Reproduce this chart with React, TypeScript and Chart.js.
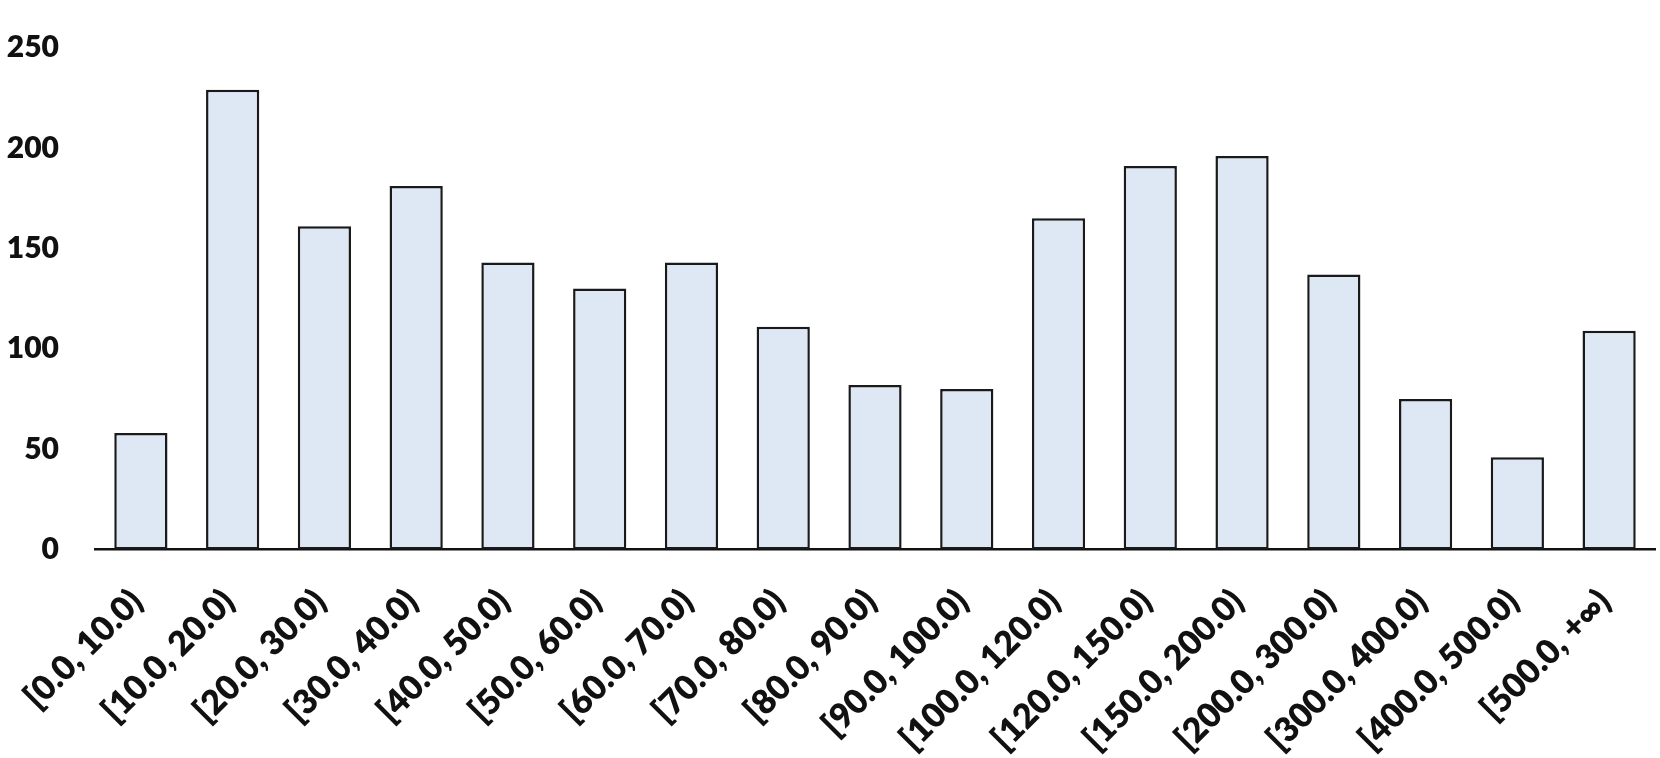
import React, { useEffect, useRef } from "react";
import { Chart, registerables } from "chart.js";

Chart.register(...registerables);

const categories = [
  "[0.0, 10.0)", "[10.0, 20.0)", "[20.0, 30.0)", "[30.0, 40.0)", "[40.0, 50.0)",
  "[50.0, 60.0)", "[60.0, 70.0)", "[70.0, 80.0)", "[80.0, 90.0)", "[90.0, 100.0)",
  "[100.0, 120.0)", "[120.0, 150.0)", "[150.0, 200.0)", "[200.0, 300.0)",
  "[300.0, 400.0)", "[400.0, 500.0)", "[500.0, +∞)",
];
const counts = [58, 229, 161, 181, 143, 130, 143, 111, 82, 80, 165, 191, 196, 137, 75, 46, 109];
const yTicks = [0, 50, 100, 150, 200, 250];

const FONT = "Lato, 'Open Sans', sans-serif";

export default function App() {
  const ref = useRef<HTMLCanvasElement | null>(null);
  useEffect(() => {
    document.body.style.margin = "0";
    const ctx = ref.current!;
    const chart = new Chart(ctx, {
      type: "bar",
      data: {
        labels: categories,
        datasets: [
          {
            data: counts,
            backgroundColor: "#DEE8F4",
            borderColor: "#1a1a1a",
            borderWidth: 2.5,
            borderSkipped: false,
            categoryPercentage: 1,
            barPercentage: 0.58,
          },
        ],
      },
      options: {
        responsive: false,
        animation: false,
        layout: { padding: { top: 47.6, right: 5, left: 0, bottom: 0 } },
        plugins: { legend: { display: false }, tooltip: { enabled: false } },
        scales: {
          x: {
            grid: { display: false, drawTicks: false },
            border: { display: true, color: "#111", width: 2.5 },
            ticks: {
              minRotation: 45,
              maxRotation: 45,
              autoSkip: false,
              padding: 32,
              labelOffset: -4,
              color: "#111",
              font: { family: FONT, size: 34, weight: "800" },
            },
            afterFit: (s: any) => {
              s.height = 208.5;
              s.paddingLeft = 0;
              s.paddingRight = 0;
            },
          },
          y: {
            min: 0,
            max: 250,
            afterBuildTicks: (s: any) => { s.ticks = yTicks.map((v) => ({ value: v })); },
            grid: { display: false, drawTicks: false },
            border: { display: false },
            ticks: {
              padding: 36,
              color: "#111",
              font: { family: FONT, size: 30, weight: "800" },
            },
            afterFit: (s: any) => {
              s.width = 95;
              s.paddingTop = 0;
              s.paddingBottom = 0;
            },
          },
        },
      },
    });
    return () => chart.destroy();
  }, []);
  return (
    <div style={{ position: "absolute", left: 0, top: 0, width: 1660, height: 758, background: "#fff" }}>
      <canvas ref={ref} width={1660} height={758} />
    </div>
  );
}
